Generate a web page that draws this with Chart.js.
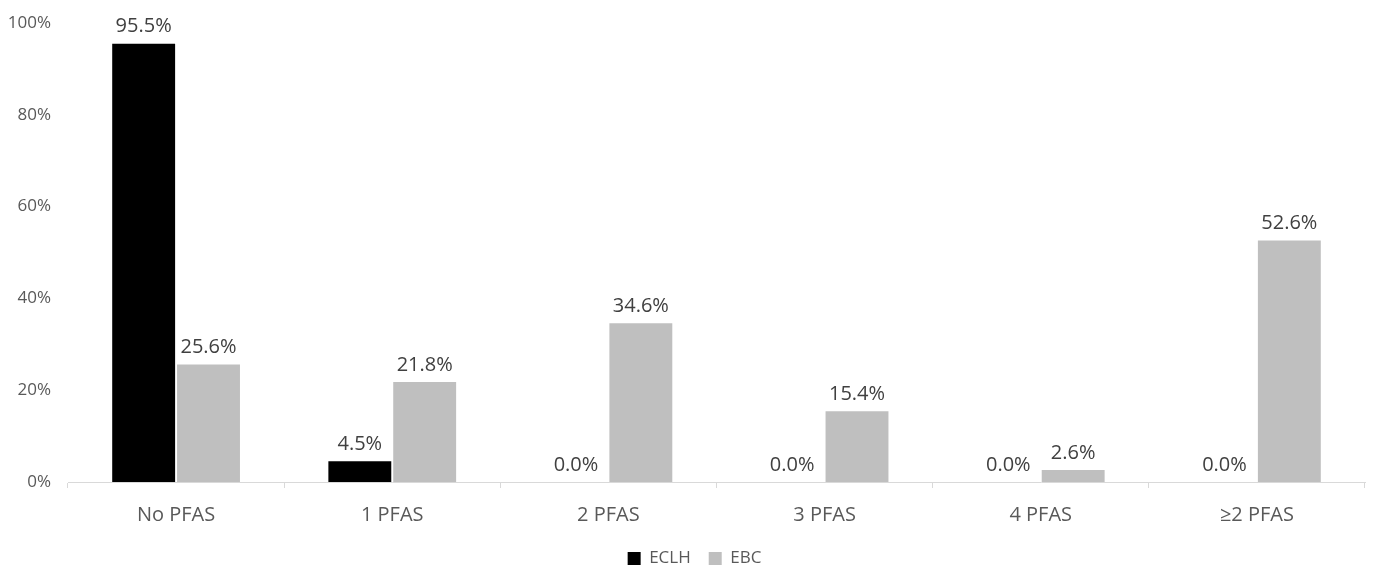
<!DOCTYPE html>
<html>
<head>
<meta charset="utf-8">
<script src="https://cdn.jsdelivr.net/npm/chart.js@4"></script>
<style>
html,body{margin:0;padding:0;background:#fff;}
#wrap{width:1373px;height:572px;position:relative;}
</style>
</head>
<body>
<div id="wrap"><canvas id="c" width="1373" height="572"></canvas></div>
<script>
const categories = ["No PFAS", "1 PFAS", "2 PFAS", "3 PFAS", "4 PFAS", "\u22652 PFAS"];
const eclhValues = [95.5, 4.5, 0.0, 0.0, 0.0, 0.0];
const ebcValues = [25.6, 21.8, 34.6, 15.4, 2.6, 52.6];
const seriesNames = ["ECLH", "EBC"];
const yTicks = [0, 20, 40, 60, 80, 100];

const FONT = "'Open Sans', 'Liberation Sans', sans-serif";

const valueLabels = {
  id: 'valueLabels',
  afterDatasetsDraw(chart) {
    const ctx = chart.ctx;
    ctx.save();
    ctx.font = "20px " + FONT;
    ctx.fillStyle = "#404040";
    ctx.textAlign = "center";
    ctx.textBaseline = "bottom";
    chart.data.datasets.forEach((ds, i) => {
      const meta = chart.getDatasetMeta(i);
      meta.data.forEach((bar, j) => {
        ctx.fillText(ds.data[j].toFixed(1) + "%", bar.x, bar.y - 7);
      });
    });
    ctx.restore();
  }
};

const legendShift = {
  id: 'legendShift',
  afterLayout(chart) {
    if (chart.legend) { chart.legend.left += 12; chart.legend.right += 12; }
  }
};

new Chart(document.getElementById('c'), {
  type: 'bar',
  data: {
    labels: categories,
    datasets: [
      { label: seriesNames[0], data: eclhValues, backgroundColor: "#000000", categoryPercentage: 0.6, barPercentage: 0.97 },
      { label: seriesNames[1], data: ebcValues, backgroundColor: "#bfbfbf", categoryPercentage: 0.6, barPercentage: 0.97 }
    ]
  },
  options: {
    responsive: false,
    animation: false,
    devicePixelRatio: 1,
    layout: { padding: { left: 0, right: 8, top: 23, bottom: -5 } },
    plugins: {
      legend: {
        position: 'bottom',
        labels: { font: { size: 17, family: FONT }, color: "#595959", boxWidth: 13, boxHeight: 13, padding: 18 }
      },
      tooltip: { enabled: false }
    },
    scales: {
      x: {
        grid: { drawOnChartArea: false, drawTicks: true, tickLength: 6, color: "#d9d9d9", offset: true },
        border: { color: "#d9d9d9", width: 1 },
        ticks: { font: { size: 20, family: FONT }, color: "#595959", padding: 15 },
        afterFit(scale) { scale.height = 50; }
      },
      y: {
        min: 0, max: 100,
        afterBuildTicks(scale) { scale.ticks = yTicks.map(v => ({ value: v })); },
        grid: { display: false, drawTicks: false, tickLength: 0 },
        border: { display: false },
        ticks: { font: { size: 17, family: FONT }, color: "#595959", padding: 17, callback: v => v + "%" },
        afterFit(scale) { scale.width = 68; scale.paddingTop = 0; scale.paddingBottom = 0; }
      }
    }
  },
  plugins: [valueLabels, legendShift]
});
</script>
</body>
</html>
